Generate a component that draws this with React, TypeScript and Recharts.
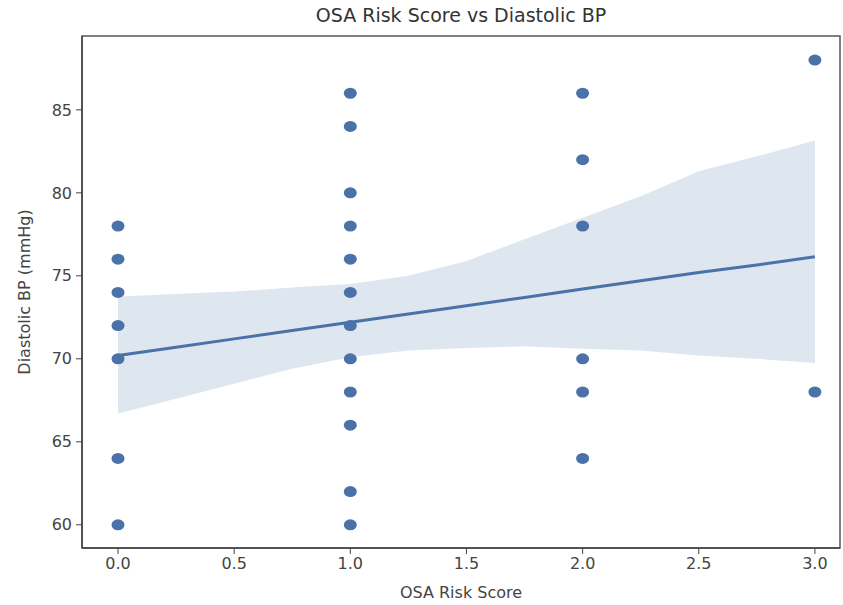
// OSA 위험 점수와 이완기 혈압 산점도 + 회귀선
import {
  ComposedChart,
  Scatter,
  Line,
  Area,
  XAxis,
  YAxis,
  ReferenceArea,
  Label,
} from "recharts";

const FONT = "DejaVu Sans";
const BLUE = "#4a72a8";

// 산점도 점 (점수별)
const score0 = [78, 76, 74, 72, 70, 64, 60];
const score1 = [86, 84, 80, 78, 76, 74, 72, 70, 68, 66, 62, 60];
const score2 = [86, 82, 78, 70, 68, 64];
const score3 = [88, 68];

// 회귀선과 신뢰구간
const fitX = [0, 0.25, 0.5, 0.75, 1, 1.25, 1.5, 1.75, 2, 2.25, 2.5, 2.75, 3];
const fitY = [70.2, 70.7, 71.2, 71.7, 72.2, 72.7, 73.2, 73.7, 74.2, 74.7, 75.2, 75.65, 76.15];
const ciLow = [66.7, 67.6, 68.5, 69.4, 70.1, 70.5, 70.65, 70.75, 70.6, 70.5, 70.2, 70.0, 69.75];
const ciHigh = [73.75, 73.9, 74.05, 74.3, 74.5, 75.0, 75.9, 77.2, 78.5, 79.8, 81.3, 82.2, 83.15];

const xTicks = [0, 0.5, 1, 1.5, 2, 2.5, 3];
const yTicks = [60, 65, 70, 75, 80, 85];

const X_DOMAIN = [-0.155, 3.108];
const Y_DOMAIN = [58.6, 89.45];

const points = [
  ...score0.map((y) => ({ x: 0, y })),
  ...score1.map((y) => ({ x: 1, y })),
  ...score2.map((y) => ({ x: 2, y })),
  ...score3.map((y) => ({ x: 3, y })),
];

const band = fitX.map((x, i) => ({
  x,
  fit: fitY[i],
  ci: [ciLow[i], ciHigh[i]],
}));

const tickStyle = { fontFamily: FONT, fontSize: 16, fill: "#444" };

export default function App() {
  return (
    <div style={{ position: "absolute", left: 0, top: 0, width: 843, height: 605, background: "#fff" }}>
      <div
        style={{
          position: "absolute",
          left: 82,
          width: 758,
          top: 4,
          textAlign: "center",
          fontFamily: FONT,
          fontSize: 19,
          color: "#333",
        }}
      >
        OSA Risk Score vs Diastolic BP
      </div>
      <ComposedChart
        width={843}
        height={605}
        data={band}
        margin={{ top: 36, right: 3, bottom: 0, left: 0 }}
      >
        <XAxis
          type="number"
          dataKey="x"
          domain={X_DOMAIN}
          ticks={xTicks}
          allowDataOverflow
          tickFormatter={(v) => v.toFixed(1)}
          tick={tickStyle}
          tickSize={6}
          tickMargin={4}
          height={57}
          axisLine={{ stroke: "#444", strokeWidth: 1.5 }}
          tickLine={{ stroke: "#444" }}
        >
          <Label
            content={({ viewBox }: any) => (
              <text
                x={viewBox.x + viewBox.width / 2}
                y={viewBox.y + 50}
                textAnchor="middle"
                fontFamily={FONT}
                fontSize={16}
                fill="#444"
              >
                OSA Risk Score
              </text>
            )}
          />
        </XAxis>
        <YAxis
          type="number"
          domain={Y_DOMAIN}
          ticks={yTicks}
          allowDataOverflow
          tick={tickStyle}
          tickSize={6}
          tickMargin={4}
          width={82}
          axisLine={{ stroke: "#444", strokeWidth: 1.5 }}
          tickLine={{ stroke: "#444" }}
        >
          <Label
            content={({ viewBox }: any) => {
              const cx = 24;
              const cy = viewBox.y + viewBox.height / 2;
              return (
                <text
                  x={cx}
                  y={cy}
                  textAnchor="middle"
                  dominantBaseline="central"
                  transform={`rotate(-90 ${cx} ${cy})`}
                  fontFamily={FONT}
                  fontSize={16}
                  fill="#444"
                >
                  Diastolic BP (mmHg)
                </text>
              );
            }}
          />
        </YAxis>
        <Area
          dataKey="ci"
          type="linear"
          stroke="none"
          fill={BLUE}
          fillOpacity={0.18}
          isAnimationActive={false}
        />
        <Scatter
          data={points}
          dataKey="y"
          fill={BLUE}
          shape={(p: any) => <ellipse cx={p.cx} cy={p.cy} rx={6.5} ry={5.5} fill={BLUE} />}
          isAnimationActive={false}
        />
        <Line
          dataKey="fit"
          type="linear"
          stroke={BLUE}
          strokeWidth={3}
          dot={false}
          activeDot={false}
          isAnimationActive={false}
        />
        <ReferenceArea
          x1={X_DOMAIN[0]}
          x2={X_DOMAIN[1]}
          y1={Y_DOMAIN[0]}
          y2={Y_DOMAIN[1]}
          fill="none"
          stroke="#555"
          strokeWidth={1.5}
        />
      </ComposedChart>
    </div>
  );
}
